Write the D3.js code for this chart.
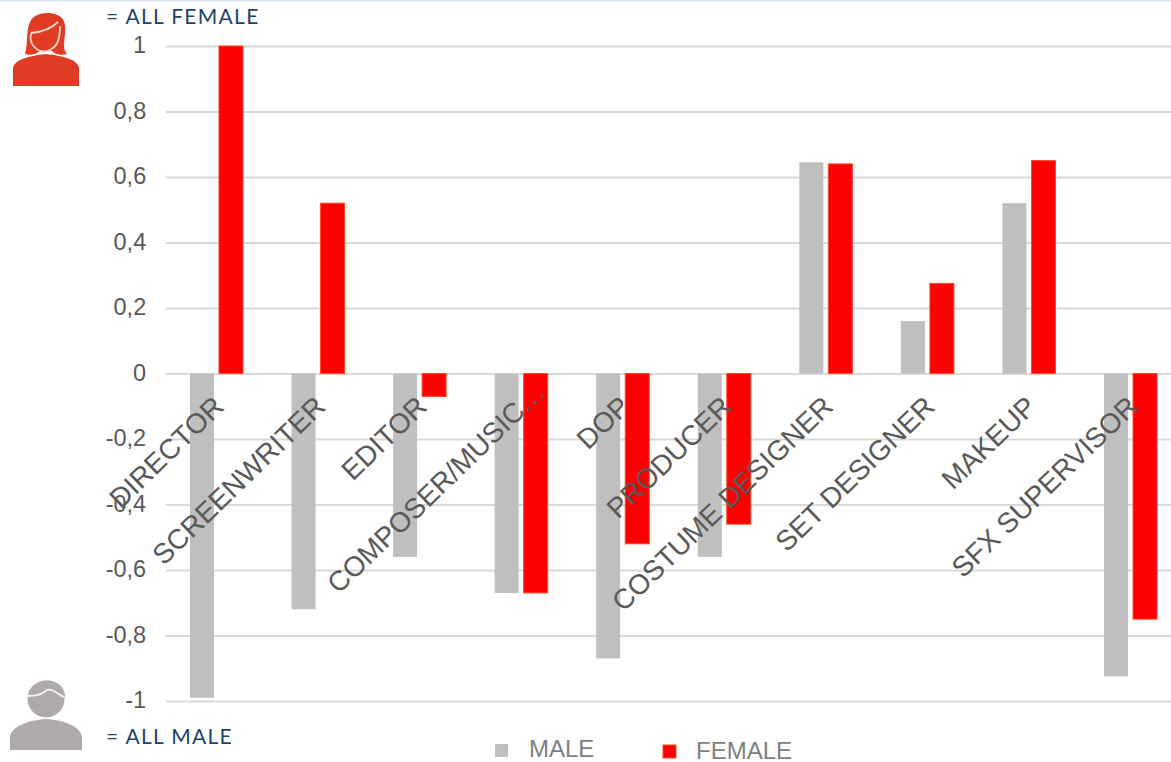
<!DOCTYPE html>
<html>
<head>
<meta charset="utf-8">
<script src="https://cdn.jsdelivr.net/npm/d3@7"></script>
<style>
html,body{margin:0;padding:0;background:#fff;overflow:hidden}
svg{display:block}
</style>
</head>
<body>
<div id="chart"></div>
<script>
const categories = ["DIRECTOR","SCREENWRITER","EDITOR","COMPOSER/MUSIC...","DOP","PRODUCER","COSTUME DESIGNER","SET DESIGNER","MAKEUP","SFX SUPERVISOR"];
const maleValues = [-0.99,-0.72,-0.56,-0.67,-0.87,-0.56,0.645,0.16,0.52,-0.925];
const femaleValues = [1,0.52,-0.07,-0.67,-0.52,-0.46,0.64,0.275,0.65,-0.75];
const yTicks = [1,0.8,0.6,0.4,0.2,0,-0.2,-0.4,-0.6,-0.8,-1];
const seriesNames = ["MALE","FEMALE"];

const width = 1171, height = 762;
const axisFont = "'Liberation Sans', Arial, sans-serif";
const noteFont = "Lato, 'Open Sans', sans-serif";

const svg = d3.select("#chart").append("svg")
  .attr("width", width).attr("height", height);

// thin pale rule along the top edge of the slide
svg.append("rect").attr("width", width).attr("height", 1.5).attr("fill", "#dce6f2");

const y = d3.scaleLinear().domain([-1, 1]).range([701, 46]);
const x = d3.scaleBand().domain(categories).range([165.7, 1181.3]);
const barW = 24, inner = 29;

// value axis with decimal commas and full-width gridlines
const yAxis = svg.append("g").attr("transform", "translate(165.7,0)")
  .call(d3.axisLeft(y).tickValues(yTicks).tickSize(-(width - 165.7)).tickPadding(19.5)
    .tickFormat(d => String(d).replace(".", ",")));
yAxis.select(".domain").remove();
yAxis.selectAll("line").attr("stroke", "#d9d9d9").attr("stroke-width", 2);
yAxis.selectAll("text").attr("font-family", axisFont).attr("font-size", 23.5)
  .attr("fill", "#595959").attr("y", -1);

// paired bars: male on the left, female on the right
const groups = svg.append("g").selectAll("g").data(categories).join("g")
  .attr("transform", d => `translate(${x(d) + x.bandwidth() / 2},0)`);

function bar(sel, values, dx, fill, stroke) {
  sel.append("rect")
    .attr("x", dx)
    .attr("width", barW)
    .attr("y", (d, i) => y(Math.max(0, values[i])))
    .attr("height", (d, i) => Math.abs(y(values[i]) - y(0)))
    .attr("fill", fill)
    .attr("stroke", stroke)
    .attr("stroke-width", stroke === "none" ? 0 : 1);
}
bar(groups, maleValues, -inner + 2.5, "#bfbfbf", "none");
bar(groups, femaleValues, 2.5, "#ff0000", "#ff4a1c");

// category labels rotated over the bars, anchored at the zero line
const xAxis = svg.append("g").attr("transform", `translate(0,${y(0)})`)
  .call(d3.axisBottom(x).tickSize(0).tickPadding(0));
xAxis.select(".domain").remove();
xAxis.selectAll("text")
  .attr("font-family", axisFont).attr("font-size", 28).attr("fill", "#595959")
  .attr("text-anchor", "end")
  .attr("dy", null).attr("y", 0)
  .attr("transform", d => d.endsWith("...")
    ? "translate(27,19) rotate(-44)"
    : "translate(9,35) rotate(-44)")
  .each(function (d) {
    // truncated labels keep their dots loosely spaced
    if (!d.endsWith("...")) return;
    const t = d3.select(this).text(d.slice(0, -3));
    t.append("tspan").attr("letter-spacing", 2.2).text("...");
  });

// legend
const legendItems = [
  {name: seriesNames[0], sx: 495, sy: 744, tx: 529, ty: 757, fill: "#bfbfbf", stroke: "none"},
  {name: seriesNames[1], sx: 663, sy: 745, tx: 696, ty: 758.5, fill: "#ff0000", stroke: "#ff4a1c"}
];
const legend = svg.append("g").selectAll("g").data(legendItems).join("g");
legend.append("rect")
  .attr("x", d => d.sx).attr("y", d => d.sy).attr("width", 13).attr("height", 13)
  .attr("fill", d => d.fill).attr("stroke", d => d.stroke);
legend.append("text")
  .attr("x", d => d.tx).attr("y", d => d.ty)
  .attr("font-family", axisFont).attr("font-size", 24).attr("fill", "#808080")
  .text(d => d.name);

// person icons with their captions
const woman = svg.append("g");
woman.append("path").attr("fill", "#e03c23").attr("d",
  "M13,86 L13,68 C14,60 28,56 46,54 C64,56 78,60 79,68 L79,86 Z");
woman.append("path").attr("fill", "#e03c23").attr("d",
  "M25,54 C28,44 26,30 30,22 C34,13 48,11 57,15 C64,17 66,24 65,34 C64,44 63,50 67,54 C60,56 55,54 52,51 L40,51 C36,54 30,56 25,54 Z");
woman.append("path").attr("fill", "none").attr("stroke", "#f6d5cc").attr("stroke-width", 1.8).attr("d",
  "M31,33 C42,32 52,28 58,22 M31,33 C29,42 33,47 38,50 C42,52 46,52 50,50 C56,47 60,42 60,26");

const man = svg.append("g");
man.append("path").attr("fill", "#aeaaaa").attr("d",
  "M10,750 L10,737 C11,727 28,720 46,719 C64,720 81,727 82,737 L82,750 Z");
man.append("circle").attr("cx", 46).attr("cy", 699).attr("r", 18.5).attr("fill", "#aeaaaa");
man.append("path").attr("fill", "#aeaaaa").attr("d",
  "M28,695 C30,684 42,679 52,681 C60,683 65,689 65,697 L28,697 Z");
man.append("path").attr("fill", "none").attr("stroke", "#f2f0f0").attr("stroke-width", 1.8).attr("d",
  "M28,696 C36,696 42,695 47,690 C52,688 58,694 64,697");

const notes = [
  {text: "= ALL FEMALE", x: 106, y: 24},
  {text: "= ALL MALE", x: 106, y: 744}
];
svg.append("g").selectAll("text").data(notes).join("text")
  .attr("x", d => d.x).attr("y", d => d.y)
  .attr("font-family", noteFont).attr("font-size", 21).attr("letter-spacing", 1.3)
  .attr("fill", "#1f4468")
  .text(d => d.text);
</script>
</body>
</html>
